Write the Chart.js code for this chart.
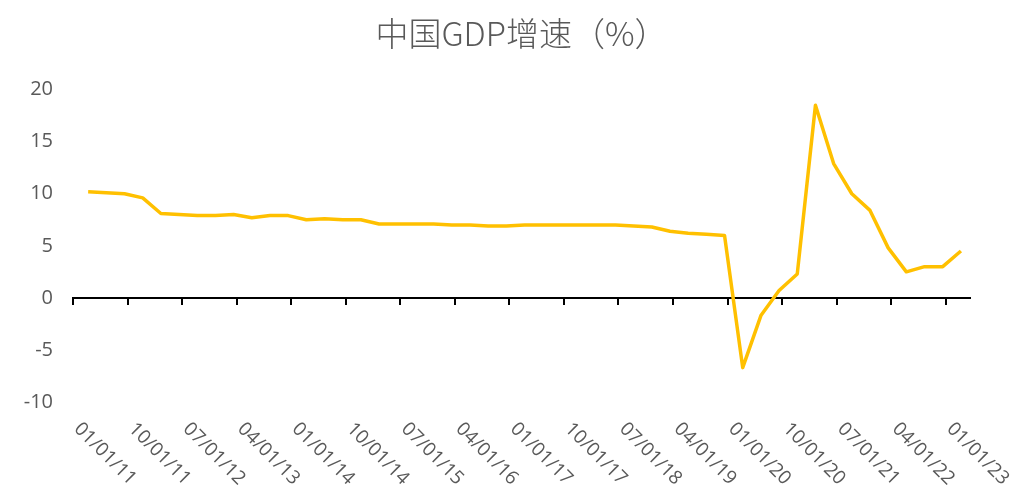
<!DOCTYPE html>
<html>
<head>
<meta charset="utf-8">
<script src="https://cdn.jsdelivr.net/npm/chart.js@4"></script>
<style>
  html, body { margin: 0; padding: 0; background: #fff; }
  #wrap { width: 1017px; height: 498px; }
</style>
</head>
<body>
<div id="wrap"><canvas id="c"></canvas></div>
<script>
// ── Data ─────────────────────────────────────────────────────
// quarter-end months, cumulative YoY GDP growth (%)
var quarters = [
  '2011-03','2011-06','2011-09','2011-12',
  '2012-03','2012-06','2012-09','2012-12',
  '2013-03','2013-06','2013-09','2013-12',
  '2014-03','2014-06','2014-09','2014-12',
  '2015-03','2015-06','2015-09','2015-12',
  '2016-03','2016-06','2016-09','2016-12',
  '2017-03','2017-06','2017-09','2017-12',
  '2018-03','2018-06','2018-09','2018-12',
  '2019-03','2019-06','2019-09','2019-12',
  '2020-03','2020-06','2020-09','2020-12',
  '2021-03','2021-06','2021-09','2021-12',
  '2022-03','2022-06','2022-09','2022-12',
  '2023-03'
];
var gdpGrowth = [
  10.2, 10.1, 10.0, 9.6,
  8.1, 8.0, 7.9, 7.9,
  8.0, 7.7, 7.9, 7.9,
  7.5, 7.6, 7.5, 7.5,
  7.1, 7.1, 7.1, 7.1,
  7.0, 7.0, 6.9, 6.9,
  7.0, 7.0, 7.0, 7.0,
  7.0, 7.0, 6.9, 6.8,
  6.4, 6.2, 6.1, 6.0,
  -6.7, -1.7, 0.7, 2.3,
  18.5, 12.9, 10.0, 8.4,
  4.8, 2.5, 3.0, 3.0,
  4.5
];
var tickLabels = [
  '01/01/11','10/01/11','07/01/12','04/01/13','01/01/14','10/01/14',
  '07/01/15','04/01/16','01/01/17','10/01/17','07/01/18','04/01/19',
  '01/01/20','10/01/20','07/01/21','04/01/22','01/01/23'
];
// months since Jan 2011 for each tick label
var tickMonths = [0, 9, 18, 27, 36, 45, 54, 63, 72, 81, 90, 99, 108, 117, 126, 135, 144];
var yTicks = [-10, -5, 0, 5, 10, 15, 20];

// ── Helpers ──────────────────────────────────────────────────
function monthIndex(s) {
  var p = s.split('-');
  return (parseInt(p[0], 10) - 2011) * 12 + (parseInt(p[1], 10) - 1);
}

var points = quarters.map(function(q, i) {
  return { x: monthIndex(q) + 0.5, y: gdpGrowth[i] };
});

var TXT = '#595959';

// ── Rotated date labels below the plot ───────────────────────
var rotatedTickLabels = {
  id: 'rotatedTickLabels',
  afterDraw: function(chart) {
    var xs = chart.scales.x, ys = chart.scales.y, ctx = chart.ctx;
    var top = ys.getPixelForValue(ys.min) + 24;
    ctx.save();
    ctx.fillStyle = TXT;
    ctx.font = '19px "Open Sans"';
    ctx.textAlign = 'left';
    ctx.textBaseline = 'middle';
    tickMonths.forEach(function(m, i) {
      var px = xs.getPixelForValue(m);
      ctx.save();
      ctx.translate(px + 4, top);
      ctx.rotate(Math.PI / 4);
      ctx.fillText(tickLabels[i], 0, 0);
      ctx.restore();
    });
    ctx.restore();
  }
};

new Chart(document.getElementById('c'), {
  type: 'line',
  data: {
    datasets: [{
      data: points,
      borderColor: '#FFC000',
      borderWidth: 3.5,
      borderJoinStyle: 'round',
      pointRadius: 0,
      tension: 0,
      fill: false
    }]
  },
  options: {
    responsive: true,
    maintainAspectRatio: false,
    animation: false,
    layout: { padding: { left: 0, right: 47, top: 0, bottom: 96 } },
    plugins: {
      legend: { display: false },
      tooltip: { enabled: false },
      title: {
        display: true,
        fullSize: false,
        text: '中国GDP增速（%）',
        color: TXT,
        font: { family: '"Noto Sans CJK SC"', size: 33, weight: 300, lineHeight: 1.2 },
        padding: { top: 14, bottom: 36 }
      }
    },
    scales: {
      x: {
        type: 'linear',
        min: 0,
        max: 148,
        position: { y: 0 },
        afterBuildTicks: function(s) {
          s.ticks = tickMonths.map(function(m) { return { value: m }; });
        },
        ticks: { display: false },
        grid: { display: true, drawOnChartArea: false, drawTicks: true, tickLength: 6, color: '#000', lineWidth: 2 },
        border: { display: true, color: '#000', width: 2 }
      },
      y: {
        min: -10,
        max: 20,
        afterBuildTicks: function(s) {
          s.ticks = yTicks.map(function(v) { return { value: v }; });
        },
        afterFit: function(s) { s.width = 73; },
        ticks: { color: TXT, font: { family: '"Open Sans"', size: 20 }, padding: 20 },
        grid: { display: false, drawTicks: false },
        border: { display: false }
      }
    }
  },
  plugins: [rotatedTickLabels]
});
</script>
</body>
</html>
